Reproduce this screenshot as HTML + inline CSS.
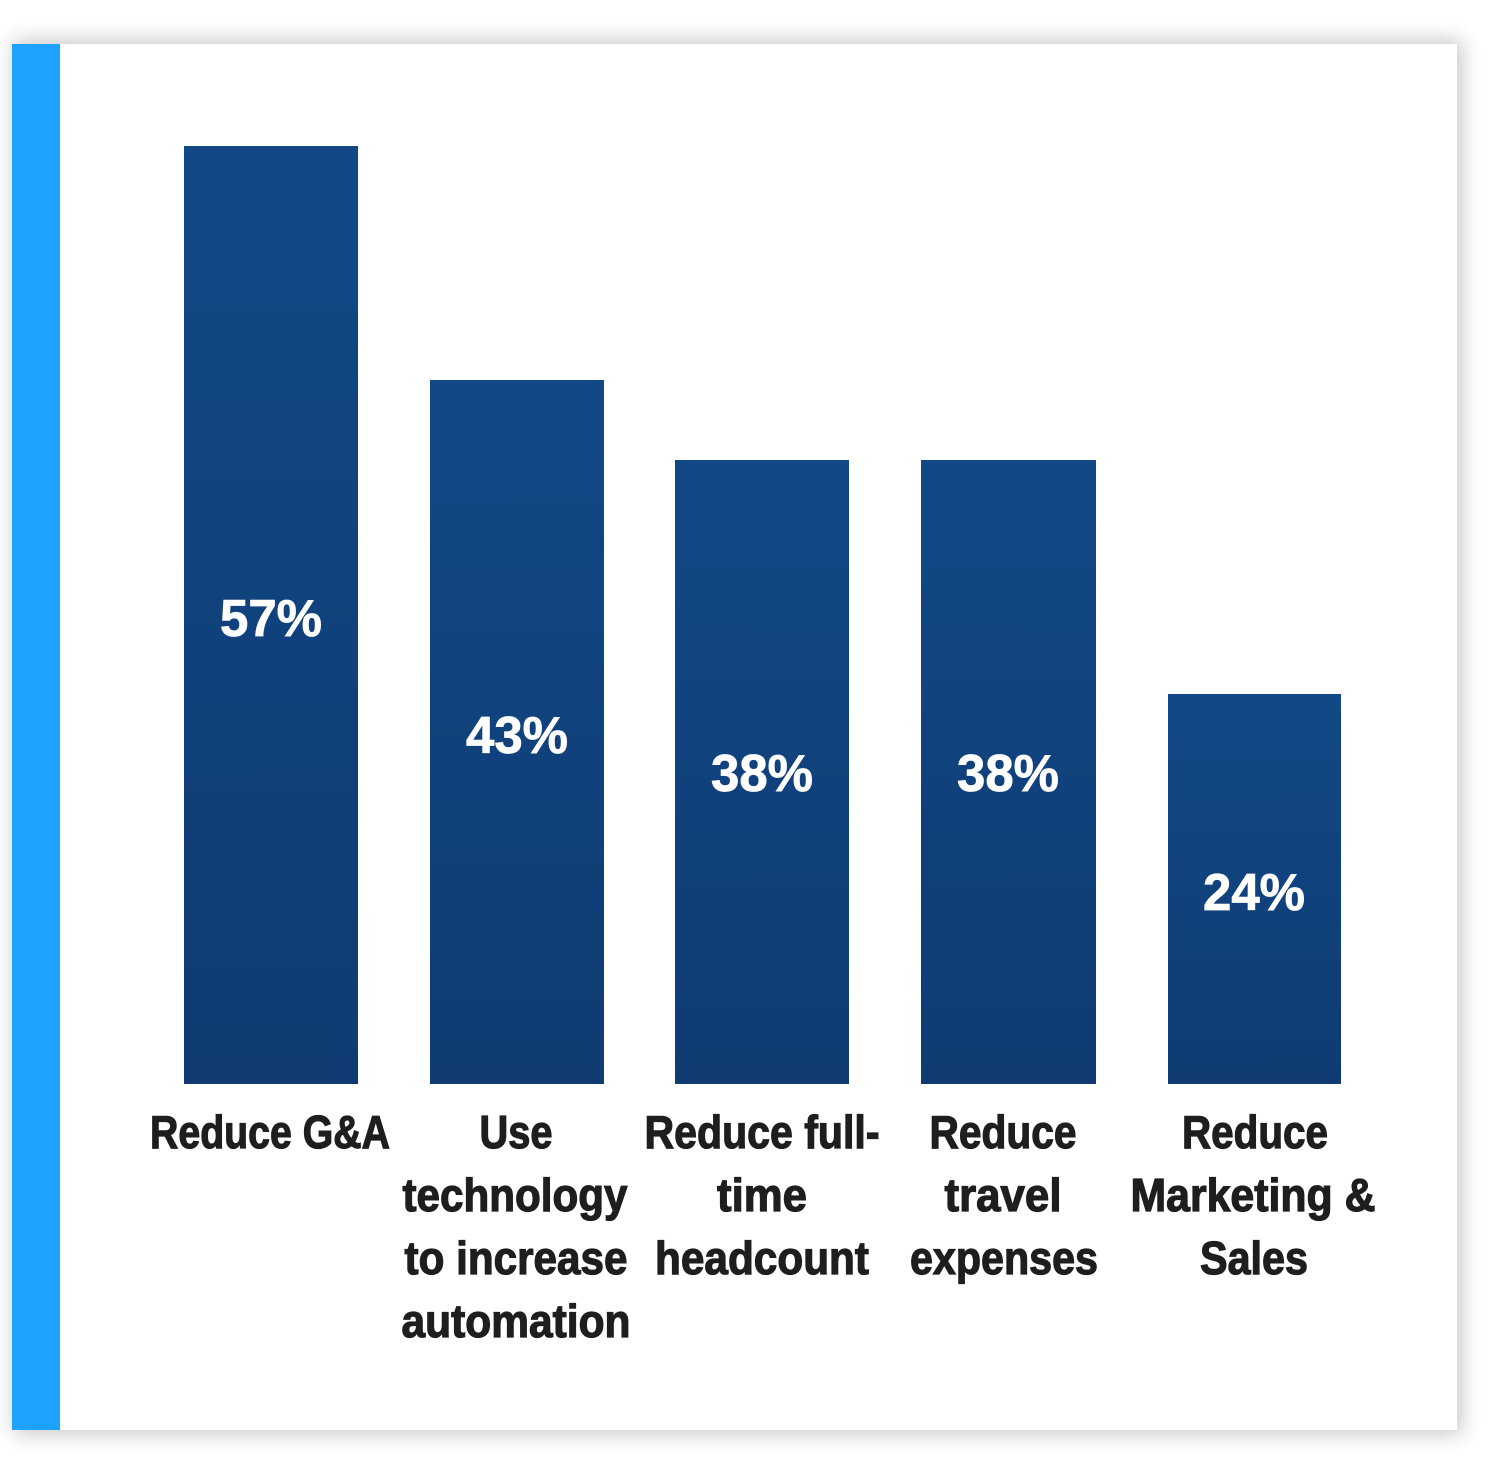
<!DOCTYPE html>
<html><head><meta charset="utf-8"><style>
html,body{margin:0;padding:0;background:#fff;}
</style></head><body>
<svg width="1501" height="1474" viewBox="0 0 1501 1474" xmlns="http://www.w3.org/2000/svg">
<defs>
<linearGradient id="g" x1="0" y1="0" x2="0" y2="1">
<stop offset="0" stop-color="#124887"/><stop offset="1" stop-color="#0f3b72"/>
</linearGradient>
<filter id="sh" x="-5%" y="-5%" width="110%" height="110%"><feGaussianBlur stdDeviation="10"/></filter>
</defs>
<rect x="14" y="40" width="1448" height="1394" fill="#000" opacity="0.22" filter="url(#sh)"/>
<rect x="12" y="44" width="1445" height="1386" fill="#fff"/>
<rect x="12" y="44" width="48" height="1386" fill="#1da3fd"/>
<g fill="url(#g)">
<rect x="184" y="146" width="174" height="938"/>
<rect x="430" y="380" width="174" height="704"/>
<rect x="675" y="460" width="174" height="624"/>
<rect x="921" y="460" width="175" height="624"/>
<rect x="1168" y="694" width="173" height="390"/>
</g>
<g font-family="'Liberation Sans Narrow','Liberation Sans',sans-serif" font-weight="bold" font-size="52" fill="#fff" stroke="#fff" stroke-width="0.8" text-anchor="middle">
<text x="271" y="636" textLength="102" lengthAdjust="spacingAndGlyphs">57%</text>
<text x="517" y="753" textLength="102" lengthAdjust="spacingAndGlyphs">43%</text>
<text x="762" y="791" textLength="102" lengthAdjust="spacingAndGlyphs">38%</text>
<text x="1008" y="791" textLength="102" lengthAdjust="spacingAndGlyphs">38%</text>
<text x="1254" y="910" textLength="102" lengthAdjust="spacingAndGlyphs">24%</text>
</g>
<g font-family="'Liberation Sans Narrow','Liberation Sans',sans-serif" font-weight="bold" font-size="46" fill="#1e1e1e" stroke="#1e1e1e" stroke-width="1.2" text-anchor="middle">
<text x="270" y="1148" textLength="240" lengthAdjust="spacingAndGlyphs">Reduce G&amp;A</text>
<text x="516" y="1148" textLength="73" lengthAdjust="spacingAndGlyphs">Use</text>
<text x="515" y="1211" textLength="225" lengthAdjust="spacingAndGlyphs">technology</text>
<text x="516" y="1274" textLength="223" lengthAdjust="spacingAndGlyphs">to increase</text>
<text x="516" y="1337" textLength="229" lengthAdjust="spacingAndGlyphs">automation</text>
<text x="762" y="1148" textLength="235" lengthAdjust="spacingAndGlyphs">Reduce full-</text>
<text x="762" y="1211" textLength="90" lengthAdjust="spacingAndGlyphs">time</text>
<text x="762" y="1274" textLength="214" lengthAdjust="spacingAndGlyphs">headcount</text>
<text x="1003" y="1148" textLength="147" lengthAdjust="spacingAndGlyphs">Reduce</text>
<text x="1003" y="1211" textLength="117" lengthAdjust="spacingAndGlyphs">travel</text>
<text x="1004" y="1274" textLength="188" lengthAdjust="spacingAndGlyphs">expenses</text>
<text x="1255" y="1148" textLength="146" lengthAdjust="spacingAndGlyphs">Reduce</text>
<text x="1253" y="1211" textLength="245" lengthAdjust="spacingAndGlyphs">Marketing &amp;</text>
<text x="1254" y="1274" textLength="108" lengthAdjust="spacingAndGlyphs">Sales</text>
</g>
</svg>
</body></html>
